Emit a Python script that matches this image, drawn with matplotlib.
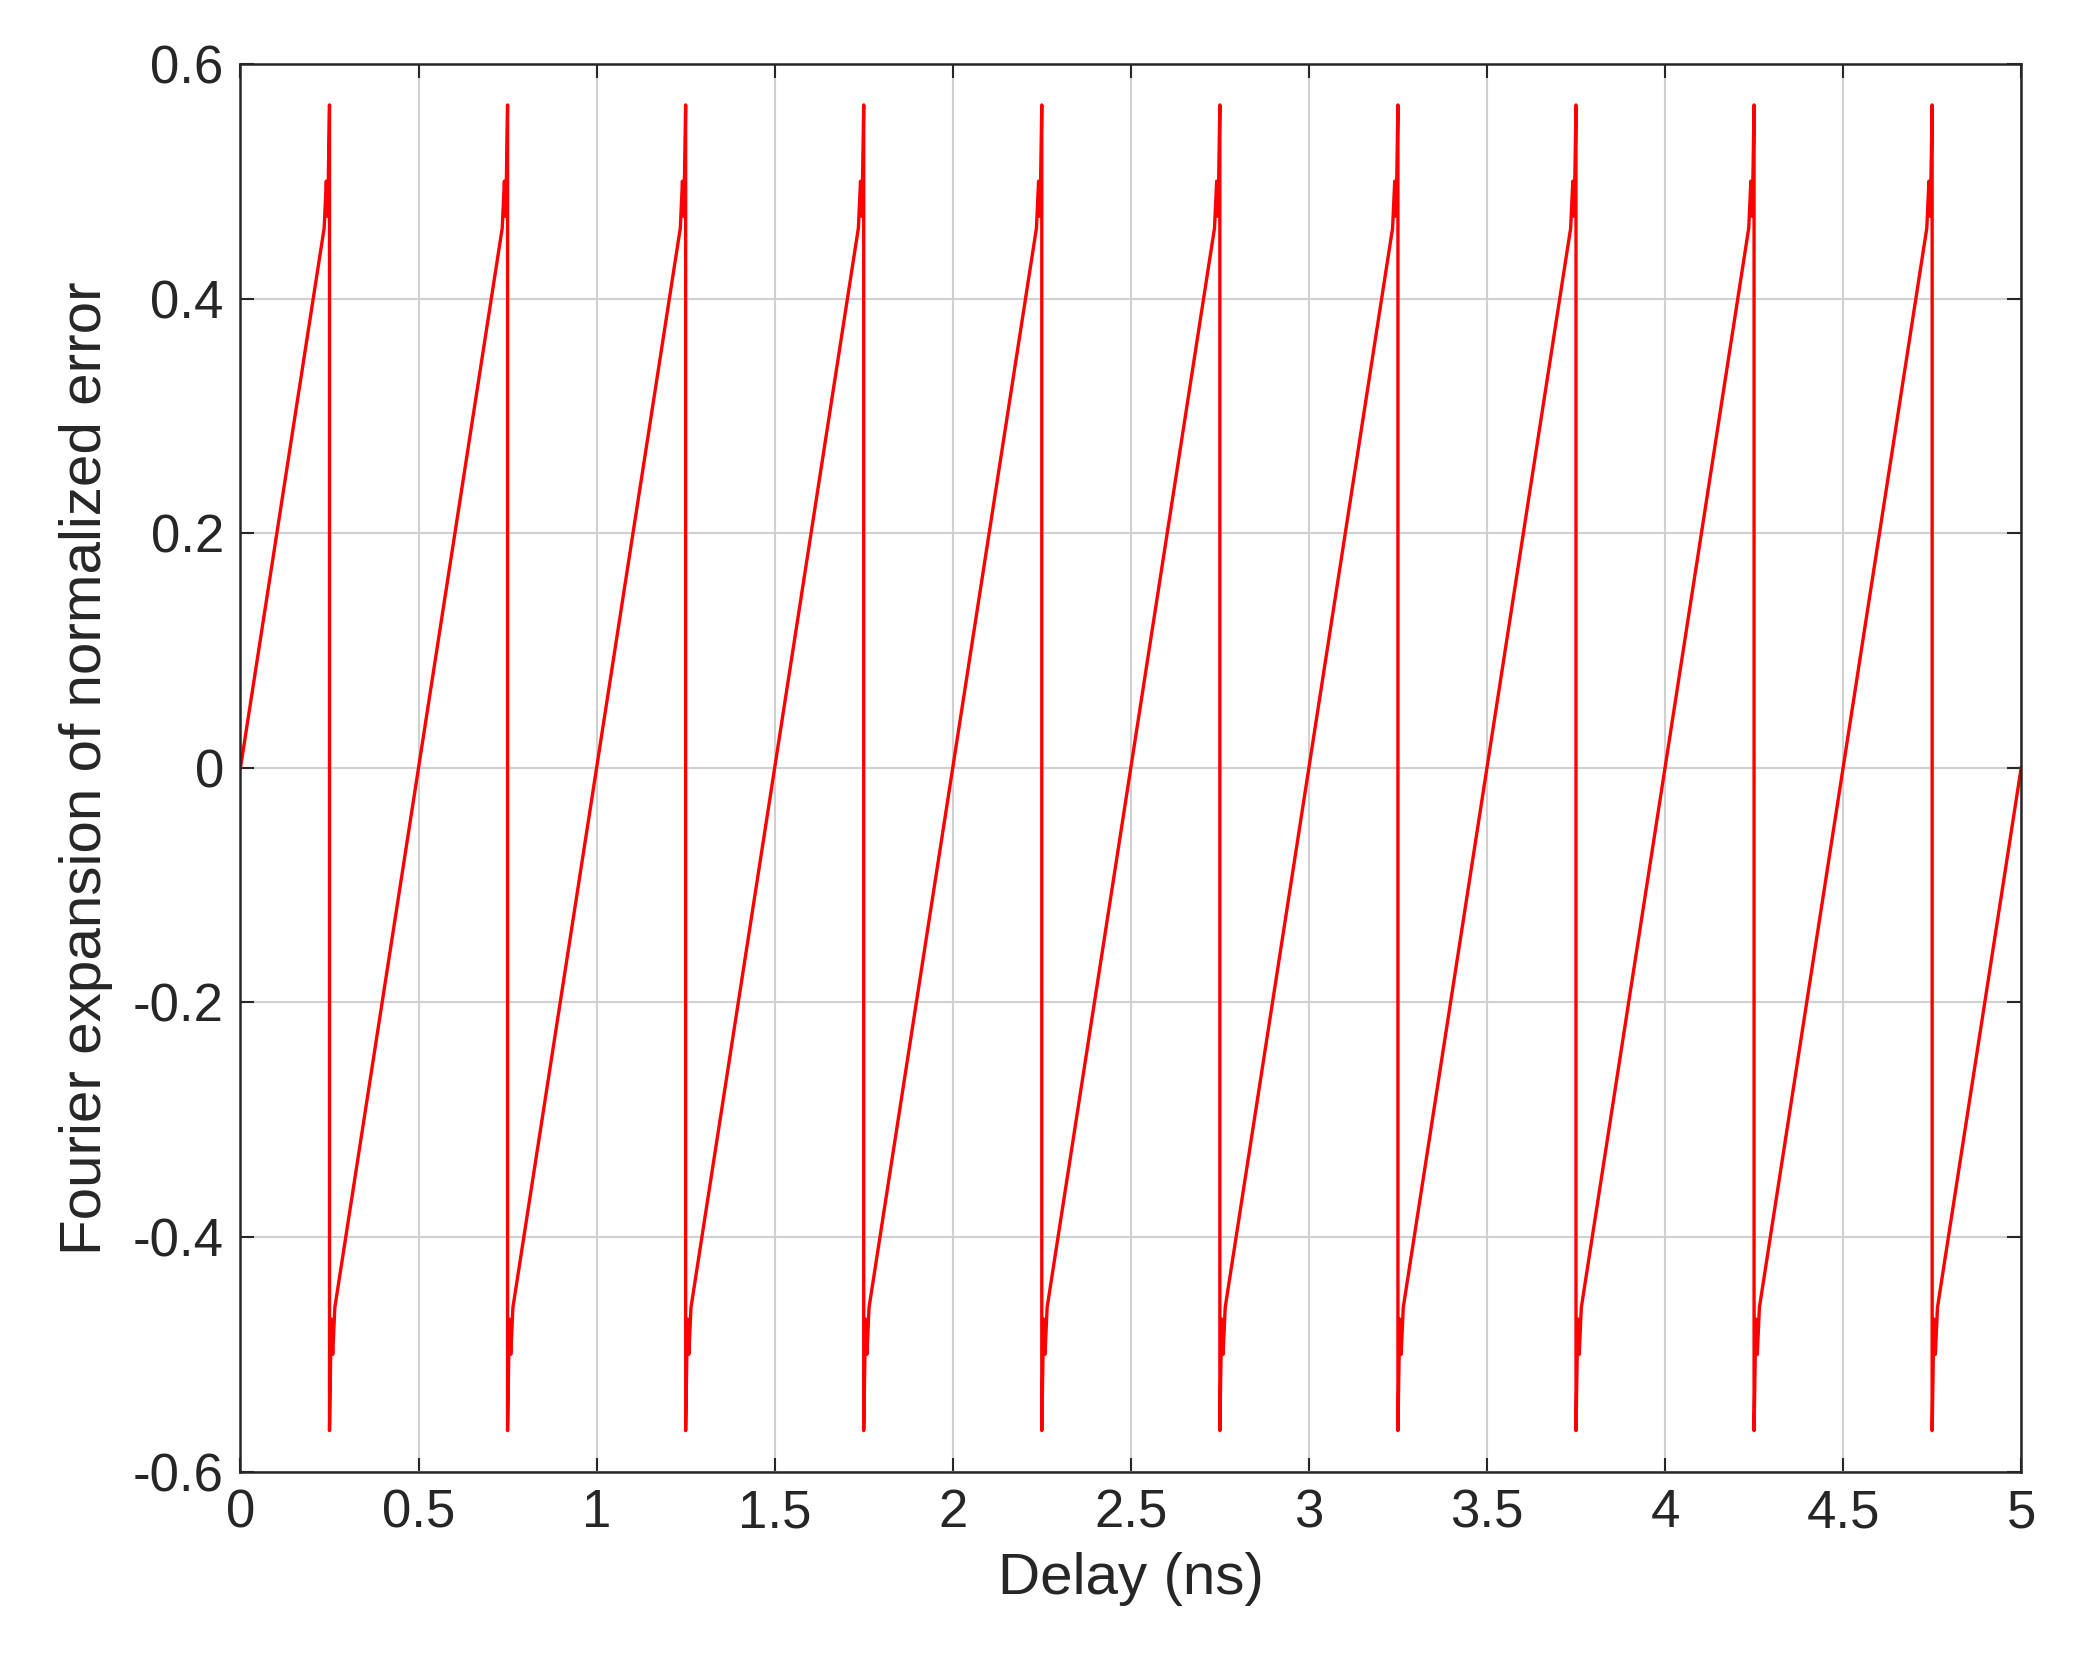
import matplotlib
matplotlib.use('Agg')
import matplotlib.pyplot as plt
import numpy as np

plt.rcParams['font.family'] = ['Liberation Sans', 'DejaVu Sans']

# jump locations of the sawtooth (ns)
jump_x = [0.25, 0.75, 1.25, 1.75, 2.25, 2.75, 3.25, 3.75, 4.25, 4.75]
# local shape around each jump: offset (ns) and value
shape_dx = [-0.015, -0.009, -0.005, 0.0, 0.0, 0.005, 0.009, 0.015]
shape_y = [0.46, 0.50, 0.47, 0.565, -0.565, -0.47, -0.50, -0.46]
start_pt = (0.0, 0.0)
end_pt = (5.0, 0.0)

xs = [start_pt[0]]
ys = [start_pt[1]]
for c in jump_x:
    for dx, y in zip(shape_dx, shape_y):
        xs.append(c + dx)
        ys.append(y)
xs.append(end_pt[0])
ys.append(end_pt[1])

fig = plt.figure(figsize=(20.73, 16.64), dpi=100)
ax = fig.add_axes([0.116, 0.1156, 0.859, 0.846])
ax.plot(xs, ys, color='#ff0000', linewidth=2.4)

ax.set_xlim(0, 5)
ax.set_ylim(-0.6, 0.6)
ax.set_xticks(np.arange(0, 5.01, 0.5))
ax.set_xticklabels(['0', '0.5', '1', '1.5', '2', '2.5', '3', '3.5', '4', '4.5', '5'])
ax.set_yticks([-0.6, -0.4, -0.2, 0, 0.2, 0.4, 0.6])
ax.set_yticklabels(['-0.6', '-0.4', '-0.2', '0', '0.2', '0.4', '0.6'])
ax.grid(True, color='#d0d0d0', linewidth=1.5)
ax.tick_params(direction='in', top=True, right=True, length=10, width=1.5,
               labelsize=38, colors='#262626', pad=12)
for s in ax.spines.values():
    s.set_linewidth(1.8)
    s.set_color('#262626')
ax.set_xlabel('Delay (ns)', fontsize=42, color='#262626', labelpad=10)
ax.set_ylabel('Fourier expansion of normalized error', fontsize=42, color='#262626', labelpad=14)

fig.savefig('out.png', dpi=100)
